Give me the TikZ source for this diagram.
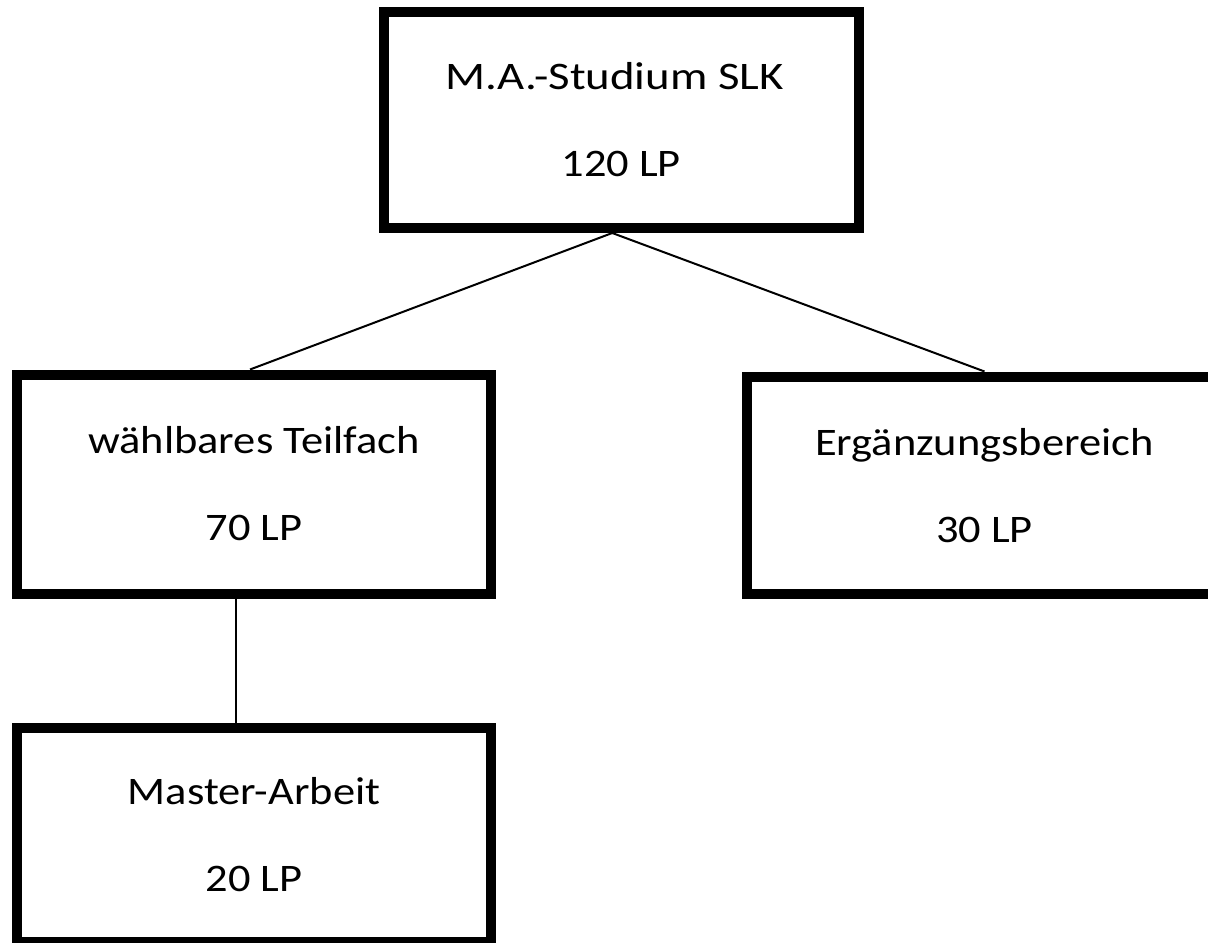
\documentclass[tikz,border=0pt]{standalone}
\usepackage{fontspec}
\setmainfont{Carlito}
\usetikzlibrary{calc}
\newcommand{\sx}[1]{\scalebox{1.14}[1]{#1}}
\tikzset{
  box/.style={draw=black, line width=5pt, rectangle, inner sep=0pt, align=center,
    font=\fontsize{19.5pt}{43.5pt}\selectfont, text=black},
  conn/.style={draw=black, line width=1pt}
}
\begin{document}
\begin{tikzpicture}[x=0.5pt,y=-0.5pt]
\useasboundingbox (0,0) rectangle (1208,942);
\node[box, minimum width=237.25pt, minimum height=108pt] (top) at (621.25,120)
  {\scalebox{1.2}[1]{M.A.-Studium SLK}\hspace*{6.5pt}\\\sx{120 LP}};
\node[box, minimum width=237pt, minimum height=109.5pt] (left) at (254,484)
  {\sx{wählbares Teilfach}\\\sx{70 LP}};
\node[box, minimum width=237.5pt, minimum height=108.75pt] (right) at (984.5,485.25)
  {\sx{Ergänzungsbereich}\\\sx{30 LP}};
\node[box, minimum width=237pt, minimum height=107pt] (master) at (254,835)
  {\sx{Master-Arbeit}\\\sx{20 LP}};
\draw[conn] ($(top.south)+(-9,0)$) -- ($(left.north)+(-4,0)$);
\draw[conn] ($(top.south)+(-9,0)$) -- (right.north);
\draw[conn] ($(left.south)+(-18,0)$) -- ($(master.north)+(-18,0)$);
\end{tikzpicture}
\end{document}
